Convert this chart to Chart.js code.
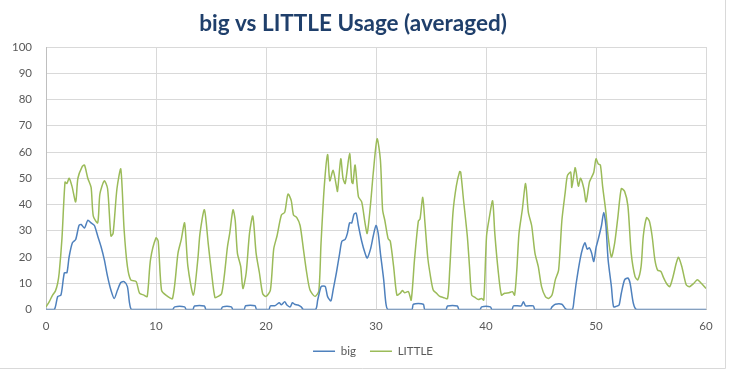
<!DOCTYPE html>
<html>
<head>
<meta charset="utf-8">
<title>big vs LITTLE Usage</title>
<script src="https://cdn.jsdelivr.net/npm/chart.js@4.4.0/dist/chart.umd.min.js"></script>
<style>
	html, body { margin: 0; padding: 0; background: #fff; }
	canvas { display: block; }
</style>
</head>
<body>
<canvas id="chart" width="735" height="376"></canvas>
<script>
// time (s) and usage (%)
const xTicks = [0, 10, 20, 30, 40, 50, 60];
const yTicks = [0, 10, 20, 30, 40, 50, 60, 70, 80, 90, 100];

const littleT = [0, 0.3, 0.6, 0.85, 1.06, 1.2, 1.45, 1.73, 1.9, 2.1, 2.36, 2.7, 2.9, 3.3, 3.5, 3.8, 4.1, 4.3, 4.7, 4.9,
	5.3, 5.6, 5.9, 6.1, 6.45, 6.8, 7.1, 7.4, 7.7, 8.2, 8.5, 8.9, 9.2, 9.5, 10, 10.2, 10.5, 10.9, 11.5, 12,
	12.3, 12.6, 12.9, 13.4, 13.8, 14, 14.4, 14.75, 15.05, 15.36, 15.66, 15.96, 16.2, 16.5, 16.7, 17, 17.2, 17.4, 17.7, 17.9,
	18.2, 18.5, 18.8, 19.1, 19.4, 19.7, 20, 20.4, 20.7, 21, 21.4, 21.7, 22, 22.3, 22.5, 22.8, 23.1, 23.4, 23.7, 24,
	24.45, 24.8, 25, 25.3, 25.6, 25.8, 26.1, 26.4, 26.5, 26.8, 27, 27.2, 27.6, 27.8, 27.9, 28.1, 28.4, 28.7, 29, 29.2,
	29.5, 29.75, 30.1, 30.4, 30.6, 30.8, 31.1, 31.3, 31.6, 31.9, 32.2, 32.4, 32.6, 32.95, 33.2, 33.5, 33.85, 34, 34.25, 34.45,
	34.7, 34.9, 35.2, 35.5, 35.8, 36.1, 36.5, 36.7, 37, 37.3, 37.6, 37.7, 37.95, 38.3, 38.5, 38.7, 39, 39.3, 39.6, 39.8,
	40.05, 40.3, 40.6, 40.8, 41.1, 41.4, 41.7, 42.1, 42.4, 42.6, 42.8, 43, 43.3, 43.6, 43.85, 44.15, 44.45, 44.75, 45.05, 45.4,
	45.7, 46, 46.3, 46.6, 46.9, 47.2, 47.4, 47.7, 47.8, 48.1, 48.2, 48.4, 48.6, 48.9, 49.1, 49.4, 49.6, 49.8, 50, 50.2,
	50.4, 50.6, 50.9, 51.1, 51.4, 51.7, 52, 52.3, 52.6, 52.9, 53.2, 53.55, 53.8, 54.1, 54.3, 54.6, 54.85, 55.1, 55.35, 55.6,
	55.9, 56.1, 56.4, 56.7, 57, 57.3, 57.5, 57.8, 58.2, 58.5, 58.9, 59.2, 59.5, 60];
const littleV = [1, 3, 5.5, 7, 10, 14, 27, 48.5, 48, 50, 47, 41, 50, 54.5, 55, 50, 46.5, 35.6, 33, 44,
	49, 46, 28, 29, 46, 53.5, 30.5, 16.4, 11.3, 10.6, 6.2, 5.5, 4.9, 19, 27.3, 26, 7.4, 5.5, 4.2, 21.5,
	26.7, 33, 16.4, 5.5, 19, 29, 38, 25, 14, 4.6, 5, 6, 12.5, 24, 29, 38, 34, 21.5, 16.4, 8,
	14, 29, 35.6, 21.5, 14, 6, 5, 7.4, 23, 28, 36, 37, 44, 41.4, 36, 35, 32, 23, 14, 7.4,
	5, 7, 25, 47, 59, 49, 53, 47, 45, 57.4, 50, 48, 59.4, 48.5, 48, 55, 43, 41, 33, 29,
	40, 52, 65, 57, 38, 34, 27, 26, 16.4, 5.5, 6.2, 7.2, 6.4, 6.8, 3.6, 19, 33.7, 34.4, 42.7, 33,
	20, 14, 7.4, 6.2, 5, 4.6, 4.2, 15, 37, 47, 52.5, 52.3, 42, 28, 16.4, 5.5, 4.6, 3.8, 4.2, 3.6,
	28, 35, 41.4, 29, 15, 5.5, 6.2, 6.4, 6.8, 5.5, 15, 29, 38, 48, 37, 32, 21.5, 16.4, 8.7, 4.9,
	4.2, 5.5, 11.3, 15, 34, 44.6, 51, 52.3, 46.5, 54, 52.3, 47, 50, 46, 41, 48.5, 50.4, 52.3, 57.4, 55.5,
	55, 47, 37, 28, 20, 25.4, 35.6, 46, 45, 39.5, 21.5, 12.5, 11.3, 16.4, 28, 35, 33.7, 28, 19, 15,
	14.5, 12.5, 10, 8.7, 12.5, 17.7, 19.9, 16.4, 9.4, 8.7, 10, 11.3, 10.3, 8];

const bigT = [0, 0.75, 1.06, 1.36, 1.67, 1.9, 2.1, 2.4, 2.7, 3, 3.2, 3.5, 3.8, 4.1, 4.4, 4.7, 5, 5.3, 5.6, 5.9,
	6.2, 6.5, 6.8, 7.1, 7.4, 7.6, 7.8, 11.5, 11.7, 12.6, 12.75, 13.35, 13.5, 14.4, 14.55, 15.9, 16.05, 16.85, 17, 18,
	18.15, 19, 19.15, 20.25, 20.4, 20.8, 21, 21.2, 21.4, 21.7, 21.9, 22.2, 22.4, 22.6, 22.9, 23.2, 23.4, 24.5, 24.7, 25,
	25.2, 25.4, 25.6, 25.9, 26.1, 26.4, 26.7, 26.9, 27.2, 27.4, 27.6, 27.8, 28, 28.2, 28.4, 28.7, 29, 29.2, 29.5, 29.75,
	30, 30.2, 30.4, 30.7, 30.9, 31.1, 33.25, 33.4, 34.3, 34.45, 36.35, 36.5, 37.4, 37.55, 39.45, 39.6, 40.4, 40.55, 42.35, 42.5,
	43.2, 43.4, 43.6, 44.3, 44.45, 45.85, 46, 46.3, 46.9, 47.2, 47.35, 47.85, 48, 48.2, 48.55, 48.8, 49, 49.2, 49.4, 49.6,
	49.8, 50, 50.2, 50.5, 50.7, 50.9, 51.1, 51.4, 51.6, 51.9, 52.1, 52.3, 52.6, 52.9, 53.1, 53.4, 53.7, 60];
const bigV = [0, 0, 4.9, 5.5, 14, 14, 20, 25.4, 26.7, 32, 32.4, 31, 34, 33, 32, 28, 24, 19, 12.5, 7.4,
	4.2, 7.4, 10.3, 10.6, 8.7, 2.3, 0, 0, 1, 1, 0, 0, 1.3, 1.3, 0, 0, 1, 1, 0, 0,
	1.4, 1.4, 0, 0, 1.4, 1.4, 2, 2.6, 1.8, 3, 1.7, 1, 2.6, 2, 1.7, 1, 0, 0, 3.6, 8.7,
	9, 8.7, 4.9, 3.3, 7.4, 14, 21.5, 26, 26.7, 29, 33, 33, 36.3, 36.7, 32, 26, 21.5, 19.6, 23, 28,
	32, 29, 21.5, 11.3, 2.3, 0, 0, 2, 2, 0, 0, 1.3, 1.3, 0, 0, 1, 1, 0, 0, 1.4,
	1.4, 3, 1.4, 1.4, 0, 0, 1, 2, 2, 0.4, 0, 0, 3.6, 10, 19, 23.5, 25.4, 23, 23.5, 21.5,
	18.3, 23.5, 26.7, 32, 37, 32, 19, 8.7, 1, 1.3, 1.7, 6.2, 11.3, 12, 10, 2.3, 0, 0];

const toPoints = (ts, vs) => ts.map((t, i) => ({ x: t, y: vs[i] }));

const frame = {
	id: 'frame',
	afterLayout(chart) {
		// legend sits a bit right of centre in the original
		const lg = chart.legend;
		lg.left += 20;
		lg.right += 20;
	},
	beforeDraw(chart) {
		const ctx = chart.ctx;
		ctx.save();
		ctx.fillStyle = '#fff';
		ctx.fillRect(0, 0, chart.width, chart.height);
		ctx.strokeStyle = '#d9d9d9';
		ctx.lineWidth = 1;
		ctx.beginPath();
		ctx.moveTo(725.5, 0);
		ctx.lineTo(725.5, 368.5);
		ctx.lineTo(0, 368.5);
		ctx.stroke();
		ctx.restore();
	},
};

const config = {
	type: 'line',
	data: {
		datasets: [
			{
				label: 'big',
				data: toPoints(bigT, bigV),
				borderColor: '#4f81bd',
				backgroundColor: '#4f81bd',
				borderWidth: 1.5,
				pointRadius: 0,
				tension: 0.25,
			},
			{
				label: 'LITTLE',
				data: toPoints(littleT, littleV),
				borderColor: '#9bbb59',
				backgroundColor: '#9bbb59',
				borderWidth: 1.5,
				pointRadius: 0,
				tension: 0.25,
			},
		],
	},
	options: {
		responsive: false,
		animation: false,
		layout: { padding: { left: 0, right: 29, top: 0, bottom: 9 } },
		scales: {
			x: {
				type: 'linear',
				min: 0,
				max: 60,
				afterBuildTicks: (s) => { s.ticks = xTicks.map((v) => ({ value: v })); },
				afterFit: (s) => { s.height = 22; },
				grid: { color: '#d9d9d9', drawTicks: false },
				border: { color: '#bfbfbf' },
				ticks: { color: '#595959', padding: 10, font: { family: 'Lato', size: 11.5 } },
			},
			y: {
				min: 0,
				max: 100,
				afterBuildTicks: (s) => { s.ticks = yTicks.map((v) => ({ value: v })); },
				afterFit: (s) => { s.width = 46; },
				grid: { color: '#d9d9d9', drawTicks: false },
				border: { color: '#bfbfbf' },
				ticks: { color: '#595959', padding: 14, font: { family: 'Lato', size: 11.5 } },
			},
		},
		plugins: {
			title: {
				display: true,
				text: 'big vs LITTLE Usage (averaged)',
				color: '#1f3f6b',
				font: { family: 'Lato', size: 22.5, weight: 'bold' },
				padding: { top: 10, bottom: 10 },
			},
			legend: {
				position: 'bottom',
				labels: {
					color: '#595959',
					font: { family: 'Lato', size: 11.5 },
					usePointStyle: true,
					pointStyle: 'line',
					pointStyleWidth: 22,
					padding: 14,
				},
			},
			tooltip: { enabled: false },
		},
	},
	plugins: [frame],
};

new Chart(document.getElementById('chart'), config);
</script>
</body>
</html>
